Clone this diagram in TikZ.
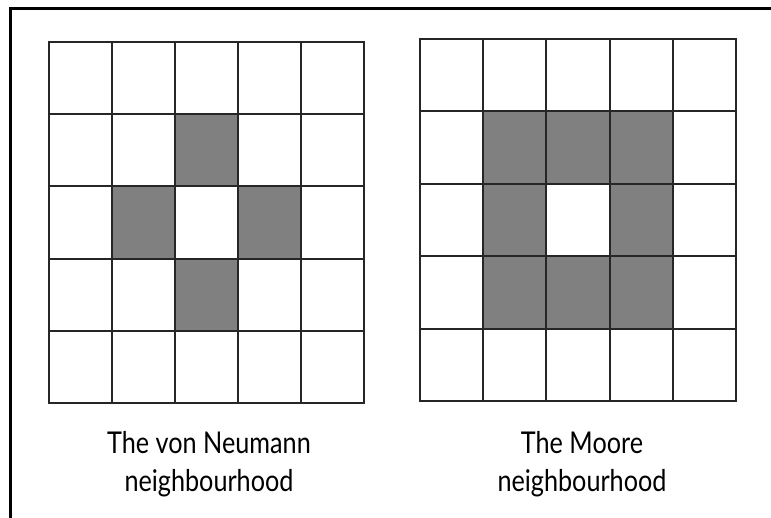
\documentclass[tikz,border=0pt]{standalone}
\usepackage{fontspec}
\setmainfont[FakeStretch=0.84]{Lato}
\usetikzlibrary{positioning}

\begin{document}
\begin{tikzpicture}[
    x=1pt, y=-1pt,
    frame/.style={line width=3pt, black},
    cell/.style={draw=black!85, line width=1.9pt},
    hood/.style={cell, fill=black!50},
    caption/.style={align=center, inner sep=0pt, anchor=base, font=\fontsize{30}{38}\selectfont}
]
\useasboundingbox (0,0) rectangle (771,518);

\draw[frame] (10,518) -- (10,9) -- (771,9);

% von Neumann
\foreach \i in {0,...,4}
  \foreach \j in {0,...,4}
    \draw[cell] ({49+63*\i},{42+72.2*\j}) rectangle ++(63,72.2);
\foreach \i/\j in {2/1,1/2,3/2,2/3}
    \draw[hood] ({49+63*\i},{42+72.2*\j}) rectangle ++(63,72.2);

% Moore
\foreach \i in {0,...,4}
  \foreach \j in {0,...,4}
    \draw[cell] ({420+63.2*\i},{39+72.4*\j}) rectangle ++(63.2,72.4);
\foreach \i/\j in {1/1,2/1,3/1,1/2,3/2,1/3,2/3,3/3}
    \draw[hood] ({420+63.2*\i},{39+72.4*\j}) rectangle ++(63.2,72.4);

\node (vn_label) [caption] at (209,491) {The von Neumann\\neighbourhood};
\node (moore_label) [caption] at (582,491) {The Moore\\neighbourhood};

\end{tikzpicture}
\end{document}
